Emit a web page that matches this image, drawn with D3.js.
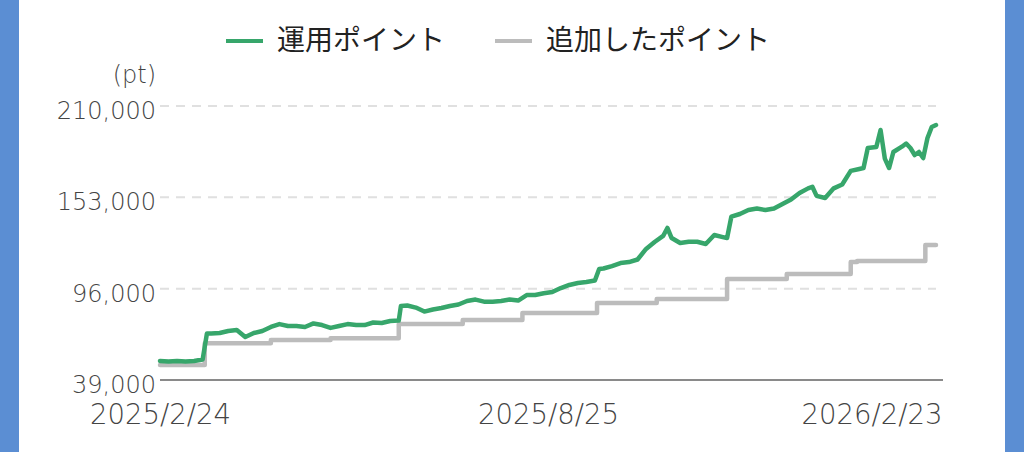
<!DOCTYPE html>
<html>
<head>
<meta charset="utf-8">
<script src="https://cdn.jsdelivr.net/npm/d3@7"></script>
<style>
body { margin: 0; background: #fff; }
.axis .domain { display: none; }
.axis text, .unit { font-family: "DejaVu Sans", sans-serif; font-weight: 200; fill: #444; }
.grid { stroke: #e0e0e0; stroke-width: 2px; stroke-dasharray: 9,7; }
.line { fill: none; stroke-width: 4.5px; stroke-linejoin: round; stroke-linecap: round; }
.legend text { font-family: "Noto Sans CJK JP", sans-serif; font-size: 28px; font-weight: 400; fill: #222; }
</style>
</head>
<body>
<svg id="chart" width="1024" height="452"></svg>
<script>
// data
var startDate = "2025/2/24";
var xTickLabels = ["2025/2/24", "2025/8/25", "2026/2/23"];
var yTicks = [39000, 96000, 153000, 210000];
var legendLabels = ["運用ポイント", "追加したポイント"];
var seriesColors = ["#37a66b", "#bcbcbc"];

// 運用ポイント (days after start, value)
var greenDays = [0, 4, 8, 12, 16, 20, 22, 24, 28, 32, 36, 40, 44, 48, 52, 56, 60, 64, 68, 72, 76, 80, 84, 88, 92, 96,
  100, 104, 108, 112, 113, 116, 120, 124, 128, 132, 136, 140, 144, 148, 152, 156, 160, 164, 168, 172, 176, 180, 184, 188,
  192, 196, 200, 204, 206, 208, 212, 216, 220, 224, 228, 232, 236, 238, 240, 244, 248, 252, 256, 260, 264, 266, 268, 272,
  276, 280, 284, 288, 292, 296, 300, 304, 306, 308, 312, 316, 320, 324, 328, 330, 332, 336, 338, 340, 342, 344, 348, 350,
  352, 354, 356, 358, 360, 362, 364];
var greenValues = [50900, 50500, 50900, 50500, 50900, 51800, 68000, 68000, 68300, 69600, 70200, 65800, 68300, 69600, 72100,
  73900, 72700, 72700, 72100, 74300, 73300, 71500, 72700, 73900, 73300, 73300, 74900, 74600, 75800, 76100, 85200, 85500,
  84200, 81700, 83000, 83900, 85200, 86100, 88300, 89200, 87900, 87900, 88300, 89200, 88600, 92000, 92000, 93100, 93900,
  96400, 98300, 99500, 100200, 101100, 108300, 108600, 110100, 112000, 112600, 114200, 120800, 125100, 128900, 133900,
  127600, 124500, 125300, 125300, 123900, 129500, 128200, 127600, 140900, 142600, 145100, 146000, 145100, 146000, 148800,
  151600, 155700, 158600, 159600, 153900, 152600, 158600, 161000, 169500, 170700, 171300, 183800, 184400, 195000, 177200,
  171300, 181300, 184600, 186600, 183800, 179400, 181300, 177500, 190000, 196900, 198100];

// 追加したポイント (step changes)
var grayDays = [0, 21, 52, 80, 112, 142, 170, 205, 233, 266, 294, 324, 327, 359, 364];
var grayValues = [48300, 62000, 64000, 65100, 74000, 76400, 80800, 87000, 89500, 102000, 105200, 112600, 113300, 123200, 123200];

var svg = d3.select("#chart");
var parseDate = d3.timeParse("%Y/%m/%d");
var start = parseDate(startDate);

function toPoints(days, values) {
  return days.map(function(d, i) { return {date: d3.timeDay.offset(start, d), value: values[i]}; });
}
var greenData = toPoints(greenDays, greenValues);
var grayData = toPoints(grayDays, grayValues);

var x = d3.scaleTime()
  .domain([start, parseDate(xTickLabels[2])])
  .range([160, 936]);
var y = d3.scaleLinear()
  .domain([yTicks[0], yTicks[yTicks.length - 1]])
  .range([380, 106]);

// side bars
svg.append("rect").attr("x", 0).attr("y", 0).attr("width", 19).attr("height", 452).attr("fill", "#5b8ed3");
svg.append("rect").attr("x", 1005).attr("y", 0).attr("width", 19).attr("height", 452).attr("fill", "#5b8ed3");

// grid
svg.selectAll(".grid")
  .data(yTicks.slice(1))
  .enter().append("line")
    .attr("class", "grid")
    .attr("x1", 160).attr("x2", 936)
    .attr("y1", function(d) { return y(d); })
    .attr("y2", function(d) { return y(d); });

// baseline
svg.append("line")
  .attr("x1", 160).attr("x2", 943)
  .attr("y1", y(yTicks[0])).attr("y2", y(yTicks[0]))
  .attr("stroke", "#8a8a8a").attr("stroke-width", 2);

// y axis
var yAxis = svg.append("g")
  .attr("class", "axis")
  .attr("transform", "translate(156,0)")
  .call(d3.axisLeft(y).tickValues(yTicks).tickSize(0).tickPadding(0).tickFormat(d3.format(",")));
yAxis.selectAll("text").style("font-size", "24px").attr("dy", "0.52em");

svg.append("text")
  .attr("class", "unit")
  .attr("x", 156).attr("y", 83)
  .attr("text-anchor", "end")
  .style("font-size", "24px")
  .text("(pt)");

// x axis
var xAxis = svg.append("g")
  .attr("class", "axis")
  .attr("transform", "translate(0,380)")
  .call(d3.axisBottom(x).tickValues(xTickLabels.map(parseDate)).tickSize(0).tickFormat(d3.timeFormat("%Y/%-m/%-d")));
xAxis.selectAll("text")
  .style("font-size", "27.5px")
  .attr("y", 44).attr("dy", 0);
xAxis.selectAll(".tick:last-of-type text").attr("text-anchor", "end").attr("x", 6);

// lines
var line = d3.line()
  .x(function(d) { return x(d.date); })
  .y(function(d) { return y(d.value); });

svg.append("path")
  .datum(grayData)
  .attr("class", "line")
  .attr("stroke", seriesColors[1])
  .attr("d", line.curve(d3.curveStepAfter));

svg.append("path")
  .datum(greenData)
  .attr("class", "line")
  .attr("stroke", seriesColors[0])
  .attr("d", line.curve(d3.curveLinear));

// legend
var legendX = [226, 495];
var legend = svg.append("g").attr("class", "legend");
var item = legend.selectAll("g")
  .data(legendLabels)
  .enter().append("g")
    .attr("transform", function(d, i) { return "translate(" + legendX[i] + ",0)"; });
item.append("line")
  .attr("x1", 0).attr("x2", 37)
  .attr("y1", 41).attr("y2", 41)
  .attr("stroke-width", 4)
  .attr("stroke", function(d, i) { return seriesColors[i]; });
item.append("text")
  .attr("x", 51).attr("y", 50)
  .text(function(d) { return d; });
</script>
</body>
</html>
